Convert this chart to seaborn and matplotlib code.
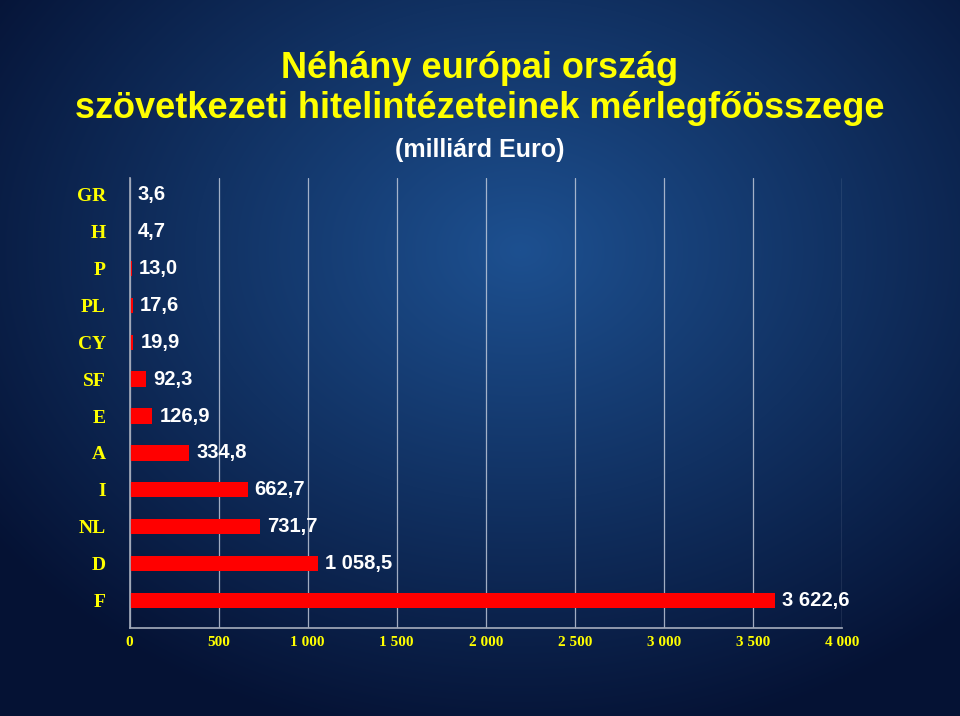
import matplotlib
matplotlib.use('Agg')
import matplotlib.pyplot as plt
import seaborn as sns
import numpy as np
import pandas as pd

countries = ['GR', 'H', 'P', 'PL', 'CY', 'SF', 'E', 'A', 'I', 'NL', 'D', 'F']
values = [3.6, 4.7, 13.0, 17.6, 19.9, 92.3, 126.9, 334.8, 662.7, 731.7, 1058.5, 3622.6]
xticks = [0, 500, 1000, 1500, 2000, 2500, 3000, 3500, 4000]


def fmt_hu(v, dec=1):
    s = f"{v:,.{dec}f}"
    return s.replace(',', ' ').replace('.', ',')


sns.set_theme(style='white')
plt.rcParams['font.family'] = ['Liberation Sans', 'DejaVu Sans']

fig = plt.figure(figsize=(9.6, 7.16), dpi=100)

# background gradient
bg = fig.add_axes([0, 0, 1, 1])
yy, xx = np.mgrid[0:716, 0:960]
r = np.sqrt(((xx - 520) / 650) ** 2 + ((yy - 250) / 500) ** 2)
r = np.clip(r, 0, 1)
c_in = np.array([0x1d, 0x50, 0x90]) / 255
c_out = np.array([0x05, 0x12, 0x34]) / 255
img = c_in[None, None, :] * (1 - r[..., None]) + c_out[None, None, :] * r[..., None]
bg.imshow(img, aspect='auto', extent=[0, 1, 0, 1])
bg.axis('off')

ax = fig.add_axes([0.135, 0.123, 0.742, 0.628])
ax.patch.set_alpha(0)
df = pd.DataFrame({'country': countries, 'value': values})
sns.barplot(data=df, x='value', y='country', orient='h', color='#ff0000',
            saturation=1, width=0.42, linewidth=0, ax=ax)

for i, v in enumerate(values):
    ax.text(v + 40, i, fmt_hu(v), color='white', fontsize=14.5,
            fontweight='bold', va='center', ha='left')

ax.set_xlim(0, 4000)
ax.set_xticks(xticks)
ax.set_xticklabels([fmt_hu(t, 0) for t in xticks], color='#ffff00',
                   fontsize=11, fontweight='bold', family='Liberation Serif')
ax.set_yticklabels(countries, color='#ffff00', fontsize=14,
                   fontweight='bold', family='Liberation Serif')
ax.set_xlabel('')
ax.set_ylabel('')
ax.set_ylim(11.75, -0.45)
ax.grid(axis='x', color='#c8d0e0', linewidth=0.9, alpha=0.8)
for s in ['top', 'right']:
    ax.spines[s].set_visible(False)
for s in ['left', 'bottom']:
    ax.spines[s].set_color('#a0a8b8')
ax.tick_params(axis='y', pad=17, length=0)
ax.tick_params(axis='x', pad=6, length=0)
ax.set_axisbelow(True)

fig.text(0.5, 0.905, 'Néhány európai ország', color='#ffff00', fontsize=26,
         fontweight='bold', ha='center', va='center')
fig.text(0.5, 0.849, 'szövetkezeti hitelintézeteinek mérlegfőösszege',
         color='#ffff00', fontsize=26, fontweight='bold', ha='center', va='center')
fig.text(0.5, 0.79, '(milliárd Euro)', color='white', fontsize=18,
         fontweight='bold', ha='center', va='center')

fig.savefig('out.png', dpi=100)
